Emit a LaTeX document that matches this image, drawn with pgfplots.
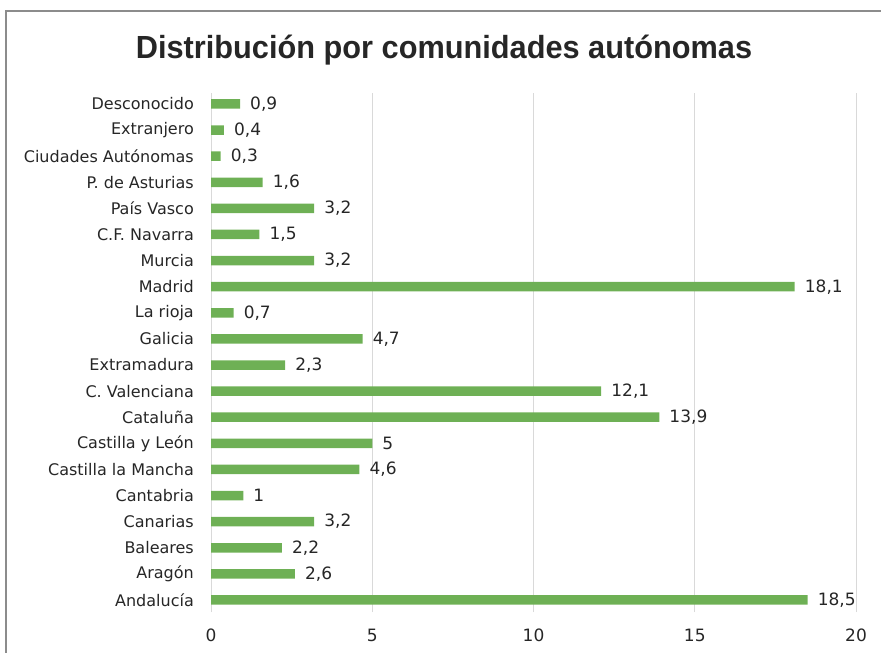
\documentclass[border=0pt]{standalone}
\usepackage{pgfplots}
\pgfplotsset{compat=1.18}
\usepackage{fontspec}
\setmainfont{DejaVu Sans}
\newfontfamily\titlefont{Liberation Sans}
\definecolor{bargreen}{HTML}{6EB055}
\definecolor{gridgray}{HTML}{D9D9D9}
\definecolor{framegray}{HTML}{8C8C8C}
\definecolor{labelgray}{HTML}{262626}
\begin{document}
\begin{tikzpicture}
\path[use as bounding box] (0bp,0bp) rectangle (881bp,653bp);
\draw[framegray, line width=1.2bp] (6bp,0bp) -- (6bp,642bp) -- (881bp,642bp);
\node[anchor=base, inner sep=0pt, text=labelgray] at (444bp,594bp) {\titlefont\bfseries\fontsize{32bp}{36bp}\selectfont\scalebox{0.96}[1]{Distribución por comunidades autónomas}};
\begin{axis}[
  at={(211bp,41bp)}, anchor=south west,
  scale only axis, width=645bp, height=519bp,
  xmin=0, xmax=20, ymin=-0.46, ymax=19.42,
  xbar, bar width=9.5bp,
  xtick={0,5,10,15,20},
  ytick={0,...,19},
  yticklabels={Andalucía,Aragón,Baleares,Canarias,Cantabria,Castilla la Mancha,Castilla y León,Cataluña,C. Valenciana,Extramadura,Galicia,La rioja,Madrid,Murcia,C.F. Navarra,País Vasco,P. de Asturias,Ciudades Autónomas,Extranjero,Desconocido},
  axis line style={draw=none},
  xmajorgrids, major grid style={gridgray, line width=1bp},
  tick style={draw=none}, major tick length=0pt,
  /pgf/number format/assume math mode=true,
  /pgf/number format/use comma,
  /pgf/number format/1000 sep={},
  ticklabel style={font=\fontsize{16bp}{19bp}\selectfont, text=labelgray},
  yticklabel style={inner sep=0pt, xshift=-17bp},
  xticklabel style={font=\fontsize{17bp}{20bp}\selectfont, inner sep=0pt, yshift=-17bp},
  nodes near coords,
  every node near coord/.append style={font=\fontsize{17bp}{20bp}\selectfont, text=labelgray, anchor=west, inner sep=0pt, xshift=10bp},
]
\addplot[fill=bargreen, draw=none] coordinates {
(18.5,0) (2.6,1) (2.2,2) (3.2,3) (1,4) (4.6,5) (5,6) (13.9,7) (12.1,8) (2.3,9)
(4.7,10) (0.7,11) (18.1,12) (3.2,13) (1.5,14) (3.2,15) (1.6,16) (0.3,17) (0.4,18) (0.9,19)
};
\end{axis}
\end{tikzpicture}
\end{document}
